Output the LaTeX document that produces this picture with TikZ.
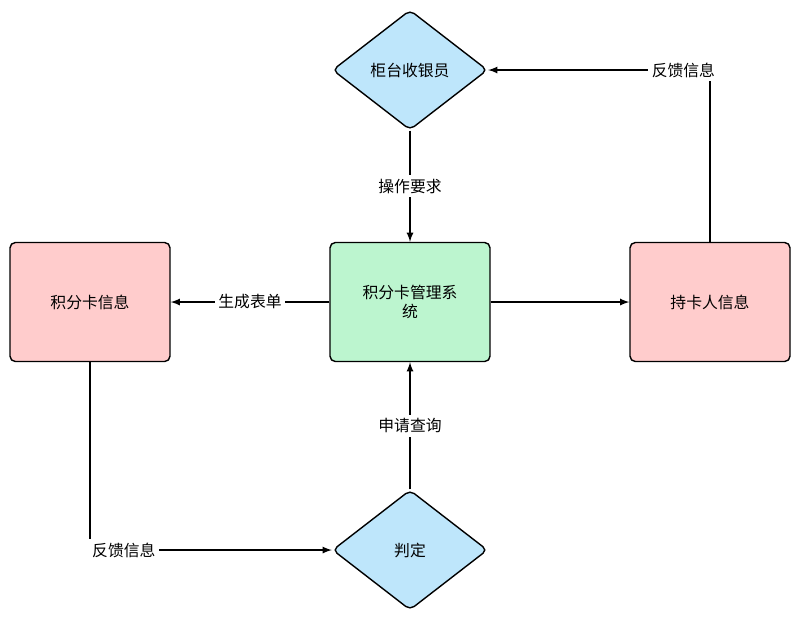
\documentclass[tikz,border=0pt]{standalone}
\usepackage{fontspec}
\newfontfamily\cjk{Noto Sans CJK SC}
\definecolor{boxred}{RGB}{255,204,204}
\definecolor{boxgreen}{RGB}{188,245,207}
\definecolor{boxblue}{RGB}{190,230,251}
\usetikzlibrary{shapes.geometric,positioning}
\tikzset{
  every picture/.style={/utils/exec={\cjk\fontsize{9}{11}\selectfont}},
  infobox/.style={draw=black, thick, rounded corners=3pt, minimum width=3.2cm, minimum height=2.38cm, align=center},
  choice/.style={diamond, draw=black, thick, fill=boxblue, minimum width=3.1cm, minimum height=2.4cm, aspect=1.3, inner sep=0pt, rounded corners=3pt},
  lbl/.style={fill=white, inner sep=2pt},
  link/.style={-latex, thick}
}
\begin{document}
\begin{tikzpicture}[x=0.02cm, y=-0.02cm]
  \useasboundingbox (0,0) rectangle (800,620);
  \node[choice] (cashier) at (410,70) {柜台收银员};
  \node[infobox, fill=boxgreen] (system) at (410,302) {积分卡管理系\\统};
  \node[infobox, fill=boxred] (card) at (90,302) {积分卡信息};
  \node[infobox, fill=boxred] (holder) at (710,302) {持卡人信息};
  \node[choice] (judge) at (410,550) {判定};

  \draw[link] (cashier) -- node[lbl] {操作要求} (system);
  \draw[link] (system) -- node[lbl] {生成表单} (card);
  \draw[link] (system) -- (holder);
  \draw[link] (holder.north) |- node[lbl, pos=0.56] {反馈信息} (cashier.east);
  \draw[link] (card.south) |- node[lbl, pos=0.57] {反馈信息} (judge.west);
  \draw[link] (judge) -- node[lbl] {申请查询} (system);
\end{tikzpicture}
\end{document}
